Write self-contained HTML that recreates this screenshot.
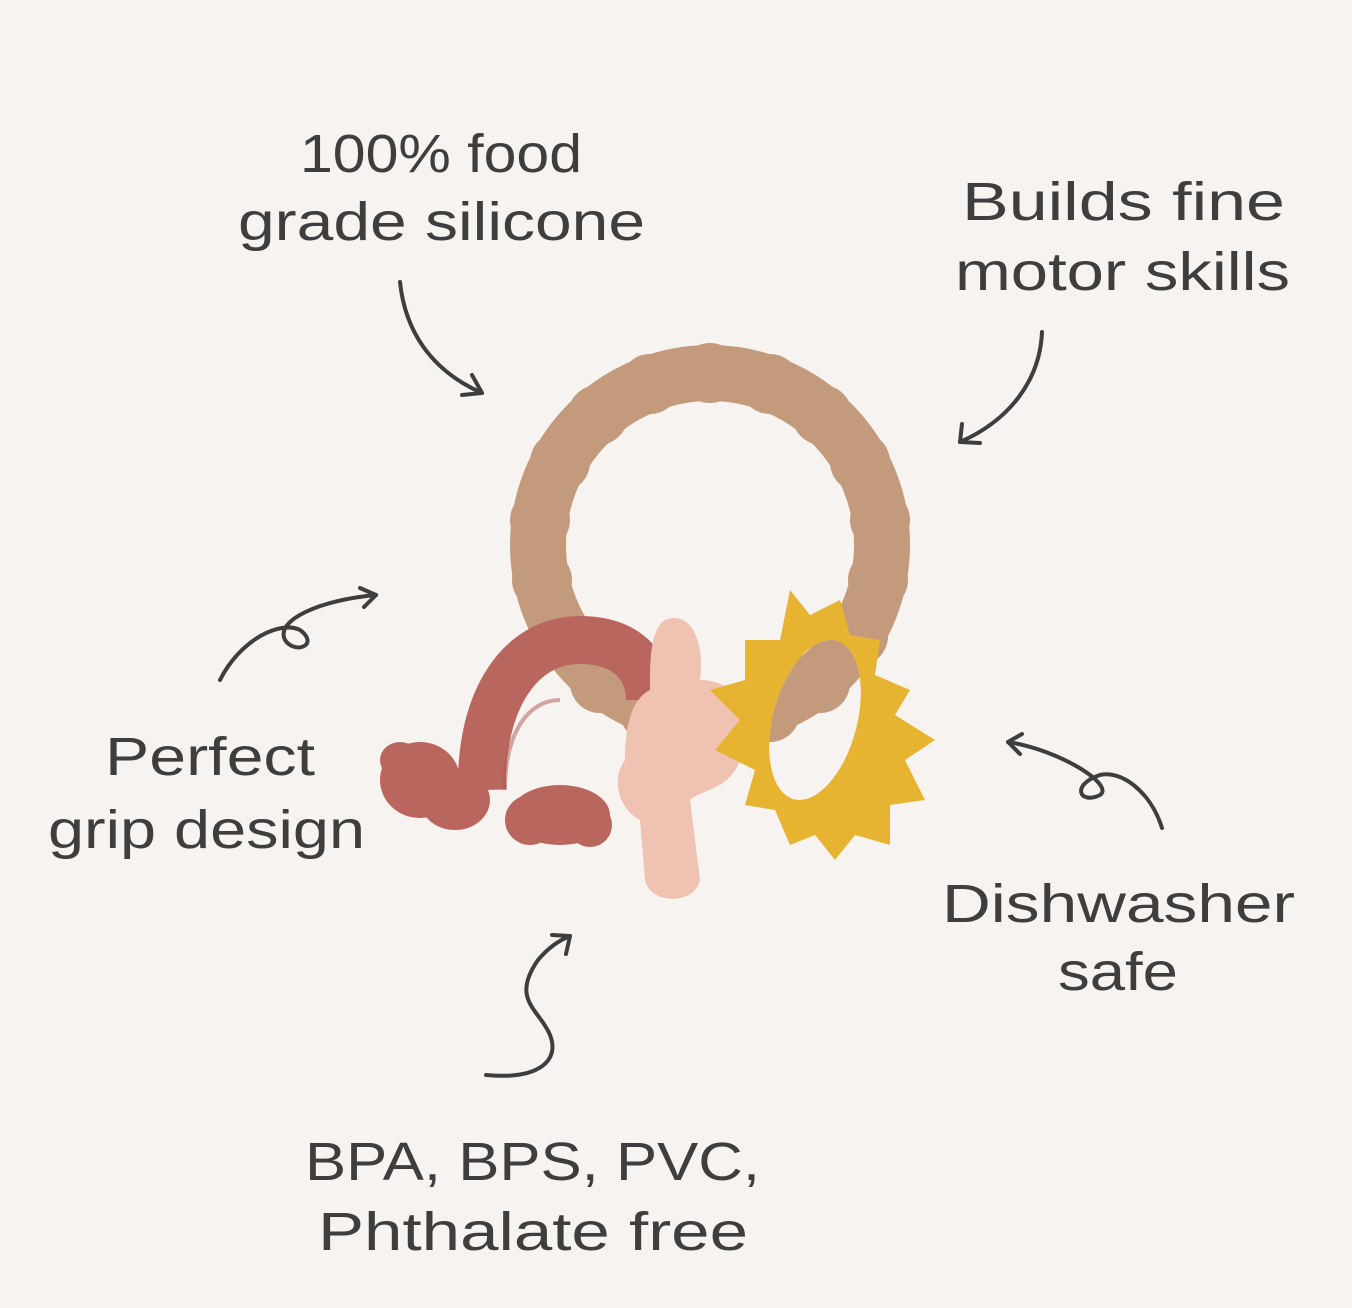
<!DOCTYPE html>
<html><head><meta charset="utf-8"><style>
html,body{margin:0;padding:0;background:#f7f3f0;}
svg{display:block}
text{font-family:"Liberation Sans",sans-serif;fill:#3e3e3e;font-size:54px;}
</style></head><body>
<svg width="1352" height="1308" viewBox="0 0 1352 1308" xmlns="http://www.w3.org/2000/svg">
<defs>
<clipPath id="hole"><ellipse cx="815" cy="720" rx="42" ry="82" transform="rotate(15 815 720)"/></clipPath>
</defs>
<rect width="1352" height="1308" fill="#f7f3f0"/>
<text x="300" y="172" textLength="282" lengthAdjust="spacingAndGlyphs">100% food</text>
<text x="238" y="240" textLength="407" lengthAdjust="spacingAndGlyphs">grade silicone</text>
<text x="962" y="220" textLength="323" lengthAdjust="spacingAndGlyphs">Builds fine</text>
<text x="955" y="290" textLength="335" lengthAdjust="spacingAndGlyphs">motor skills</text>
<text x="105" y="775" textLength="210" lengthAdjust="spacingAndGlyphs">Perfect</text>
<text x="48" y="848" textLength="317" lengthAdjust="spacingAndGlyphs">grip design</text>
<text x="942" y="922" textLength="353" lengthAdjust="spacingAndGlyphs">Dishwasher</text>
<text x="1058" y="990" textLength="120" lengthAdjust="spacingAndGlyphs">safe</text>
<text x="305" y="1180" textLength="455" lengthAdjust="spacingAndGlyphs">BPA, BPS, PVC,</text>
<text x="318" y="1250" textLength="430" lengthAdjust="spacingAndGlyphs">Phthalate free</text>
<g fill="none" stroke="#3e3e3e" stroke-width="4" stroke-linecap="round" stroke-linejoin="round">
<path d="M400 282 C405 330 430 370 482 393"/><path d="M462 395 L482 393 L472 375"/>
<path d="M1042 332 C1040 380 1010 420 960 442"/><path d="M962 424 L960 442 L980 443"/>
<path d="M220 680 C240 640 280 620 300 630 C320 645 295 655 285 640 C275 620 320 600 376 595"/><path d="M360 588 L376 595 L364 607"/>
<path d="M1162 828 C1150 790 1120 770 1100 775 C1070 785 1080 805 1100 795 C1115 785 1060 750 1008 742"/><path d="M1022 734 L1008 742 L1020 754"/>
<path d="M486 1075 C540 1080 560 1060 550 1035 C540 1010 510 1000 538 960 C548 948 560 940 570 936"/><path d="M552 935 L570 936 L566 954"/>
</g>
<!-- ring -->
<circle cx="710" cy="545" r="172" fill="none" stroke="#c39a7b" stroke-width="56"/>
<g fill="#c39a7b">
<circle cx="710" cy="373" r="30"/><circle cx="770" cy="384" r="30"/><circle cx="822" cy="415" r="30"/><circle cx="860" cy="462" r="30"/><circle cx="880" cy="520" r="30"/><circle cx="878" cy="580" r="30"/><circle cx="858" cy="636" r="30"/>
<circle cx="650" cy="384" r="30"/><circle cx="598" cy="415" r="30"/><circle cx="560" cy="462" r="30"/><circle cx="540" cy="520" r="30"/><circle cx="542" cy="580" r="30"/><circle cx="562" cy="636" r="30"/><circle cx="600" cy="683" r="30"/><circle cx="650" cy="712" r="30"/><circle cx="710" cy="720" r="30"/><circle cx="770" cy="712" r="30"/><circle cx="820" cy="683" r="30"/>
</g>
<!-- rainbow arch -->
<path d="M482 790 C480 700 520 640 580 640 C630 640 650 670 650 700" fill="none" stroke="#b9665f" stroke-width="48"/>
<path d="M505 790 C505 730 530 700 560 700" fill="none" stroke="#a9574f" stroke-width="4" opacity="0.5"/>
<g fill="#b9665f">
<ellipse cx="420" cy="780" rx="40" ry="38"/><ellipse cx="400" cy="760" rx="20" ry="18"/><ellipse cx="455" cy="800" rx="35" ry="30"/>
<ellipse cx="560" cy="815" rx="50" ry="30"/><ellipse cx="590" cy="825" rx="22" ry="22"/><ellipse cx="530" cy="820" rx="25" ry="25"/>
</g>
<!-- flower -->
<path d="M665 620 C690 610 705 640 700 680 C740 680 760 720 740 760 C730 790 700 790 690 800 L700 880 C695 905 650 905 645 880 L640 820 C620 810 610 780 625 760 C625 730 630 700 650 690 C650 660 650 630 665 620 Z" fill="#efc2b1"/>
<!-- sun -->
<path d="M790 590 L810 615 L840 600 L850 635 L880 640 L875 675 L910 690 L895 715 L935 740 L905 760 L925 800 L890 805 L890 845 L855 835 L835 860 L815 835 L790 845 L775 810 L745 805 L755 770 L715 750 L740 720 L710 690 L745 680 L745 640 L780 640 Z" fill="#e6b431"/>
<ellipse cx="815" cy="720" rx="42" ry="82" transform="rotate(15 815 720)" fill="#f7f3f0"/>
<g clip-path="url(#hole)">
<circle cx="710" cy="545" r="172" fill="none" stroke="#c39a7b" stroke-width="56"/>
<circle cx="858" cy="636" r="30" fill="#c39a7b"/><circle cx="820" cy="683" r="30" fill="#c39a7b"/><circle cx="770" cy="712" r="30" fill="#c39a7b"/>
</g>
</svg>
</body></html>
